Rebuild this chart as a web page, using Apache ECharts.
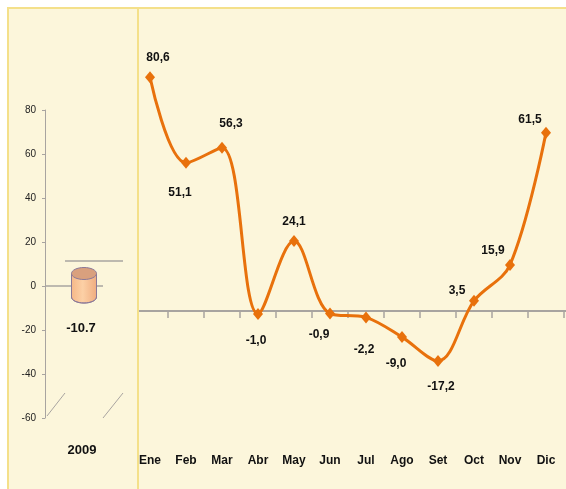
<!DOCTYPE html>
<html>
<head>
<meta charset="utf-8">
<script src="https://cdn.jsdelivr.net/npm/echarts@6/dist/echarts.min.js"></script>
<style>
html, body { margin: 0; padding: 0; background: #fff; }
#wrap { position: relative; width: 566px; height: 489px; overflow: hidden; }
#frame { position: absolute; left: 7px; top: 7px; width: 700px; height: 600px;
         background: #fcf6db; border-left: 2px solid #f4e08a; border-top: 2px solid #f4e08a; }
#divider { position: absolute; left: 137px; top: 8px; width: 2px; height: 600px; background: #f4e08a; }
#chart { position: absolute; left: 0; top: 0; width: 566px; height: 489px; }
</style>
</head>
<body>
<div id="wrap">
  <div id="frame"></div>
  <div id="divider"></div>
  <div id="chart"></div>
</div>
<script>
// yearly total (3D cylinder panel)
const yearCategories = ['2009'];
const yearValues = [-10.7];
const yearTicks = [-60, -40, -20, 0, 20, 40, 60, 80];

// monthly variation
const months = ['Ene', 'Feb', 'Mar', 'Abr', 'May', 'Jun', 'Jul', 'Ago', 'Set', 'Oct', 'Nov', 'Dic'];
const monthValues = [80.6, 51.1, 56.3, -1.0, 24.1, -0.9, -2.2, -9.0, -17.2, 3.5, 15.9, 61.5];

// label placement around each point (dx, dy)
const labelOffsets = [[8, -20], [-6, 30], [9, -24], [-2, 27], [0, -19], [-11, 21],
                      [-2, 32], [-6, 27], [3, 26], [-17, -10], [-17, -14], [-16, -13]];

const font = '"Liberation Sans Narrow", "Liberation Sans", Arial, sans-serif';
const orange = '#e8710c';
const gray = '#a8a4a0';
const depth = [20, -25];   // 3D offset of the back wall

var myChart = echarts.init(document.getElementById('chart'));

function fmt(v) {
    return v.toFixed(1).replace('.', ',');
}

var option = {
    animation: false,
    textStyle: { fontFamily: font },
    grid: [
        { left: 45, top: 110, width: 58, height: 308 },
        { left: 132, right: 2, top: 50, bottom: 62 }
    ],
    xAxis: [
        {
            type: 'category', gridIndex: 0, data: yearCategories,
            position: 'bottom',
            axisLine: { show: false, onZero: false },
            axisTick: { show: false },
            axisLabel: { margin: 26, padding: [0, 0, 0, 16], fontSize: 13, fontWeight: 'bold', color: '#111', fontFamily: font }
        },
        {
            type: 'category', gridIndex: 1, data: months,
            position: 'bottom',
            axisLine: { show: false, onZero: false },
            axisTick: { show: false },
            axisLabel: { margin: 28, fontSize: 12, fontWeight: 'bold', color: '#111', fontFamily: font }
        },
        {
            type: 'category', gridIndex: 1, data: months,
            axisLine: { show: false, onZero: true },
            axisTick: {
                show: true, length: 7, inside: true,
                interval: function (index) { return index !== 0; },
                lineStyle: { color: gray, width: 1.5 }
            },
            axisLabel: { show: false }
        }
    ],
    yAxis: [
        {
            type: 'value', gridIndex: 0,
            min: yearTicks[0], max: yearTicks[yearTicks.length - 1], interval: 20,
            axisLine: { show: true, lineStyle: { color: gray, width: 1 } },
            axisTick: { show: true, length: 3, lineStyle: { color: gray } },
            splitLine: { show: false },
            axisLabel: { margin: 9, fontSize: 10, color: '#222', fontFamily: font }
        },
        {
            type: 'value', gridIndex: 1, min: -40, max: 90,
            show: false, splitLine: { show: false }
        }
    ],
    series: [
        {
            type: 'custom',
            xAxisIndex: 0, yAxisIndex: 0,
            data: yearValues.map(function (v, i) { return [i, v]; }),
            encode: { x: 0, y: 1 },
            renderItem: function (params, api) {
                var base = api.coord([api.value(0), 0]);
                var end = api.coord([api.value(0), api.value(1)]);
                var cx = base[0] + depth[0] / 2;
                var top = base[1] + depth[1] / 2;
                var bottom = end[1] + depth[1] / 2;
                var rx = 12.5, ry = 6;
                var stroke = '#8a7898';
                var bodyFill = new echarts.graphic.LinearGradient(0, 0, 1, 0, [
                    { offset: 0, color: '#f6b888' },
                    { offset: 0.45, color: '#fcd0a6' },
                    { offset: 1, color: '#f0ad80' }
                ]);
                return {
                    type: 'group',
                    children: [
                        { type: 'ellipse', shape: { cx: cx, cy: bottom, rx: rx, ry: ry },
                          style: { fill: bodyFill, stroke: stroke, lineWidth: 1 } },
                        { type: 'rect', shape: { x: cx - rx, y: top, width: rx * 2, height: bottom - top },
                          style: { fill: bodyFill } },
                        { type: 'line', shape: { x1: cx - rx, y1: top, x2: cx - rx, y2: bottom },
                          style: { stroke: stroke, lineWidth: 1 } },
                        { type: 'line', shape: { x1: cx + rx, y1: top, x2: cx + rx, y2: bottom },
                          style: { stroke: stroke, lineWidth: 1 } },
                        { type: 'ellipse', shape: { cx: cx, cy: top, rx: rx, ry: ry },
                          style: { fill: '#d9a07e', stroke: stroke, lineWidth: 1 } },
                        { type: 'text', x: cx - 3, y: bottom + 31,
                          style: { text: String(api.value(1)), fontSize: 13, fontWeight: 'bold',
                                   fontFamily: font, fill: '#111', align: 'center', verticalAlign: 'middle' } }
                    ]
                };
            },
            z: 3
        },
        {
            name: 'Mensual',
            type: 'line',
            xAxisIndex: 1, yAxisIndex: 1,
            smooth: 0.35,
            symbol: 'diamond',
            symbolSize: [10, 12],
            lineStyle: { color: orange, width: 3 },
            itemStyle: { color: orange },
            data: monthValues.map(function (v, i) {
                return {
                    value: v,
                    label: { offset: labelOffsets[i] }
                };
            }),
            label: {
                show: true, position: 'inside',
                fontSize: 12, fontWeight: 'bold', color: '#111', fontFamily: font,
                formatter: function (p) { return fmt(p.value); }
            },
            z: 4
        }
    ]
};

myChart.setOption(option);

// 3D frame lines of the left panel and zero line of the right panel
var g0 = option.grid[0];
var y0 = myChart.convertToPixel({ yAxisIndex: 0 }, 0);
var yFloor = myChart.convertToPixel({ yAxisIndex: 0 }, yearTicks[0]);
var x0 = g0.left, x1 = g0.left + g0.width;
var zeroRight = myChart.convertToPixel({ yAxisIndex: 1 }, 0);
var lineStyle = { stroke: gray, lineWidth: 1.5 };

myChart.setOption({
    graphic: [
        { type: 'line', z: 1, shape: { x1: x0, y1: y0, x2: x1, y2: y0 }, style: lineStyle },
        { type: 'line', z: 1, shape: { x1: x0 + depth[0], y1: y0 + depth[1], x2: x1 + depth[0], y2: y0 + depth[1] }, style: lineStyle },
        { type: 'line', z: 1, shape: { x1: x0 + 2, y1: yFloor - 2, x2: x0 + depth[0], y2: yFloor + depth[1] }, style: { stroke: gray, lineWidth: 1 } },
        { type: 'line', z: 1, shape: { x1: x1, y1: yFloor, x2: x1 + depth[0], y2: yFloor + depth[1] }, style: { stroke: gray, lineWidth: 1 } },
        { type: 'line', z: 1, shape: { x1: 139, y1: zeroRight, x2: 566, y2: zeroRight }, style: { stroke: gray, lineWidth: 2 } }
    ]
});
</script>
</body>
</html>
